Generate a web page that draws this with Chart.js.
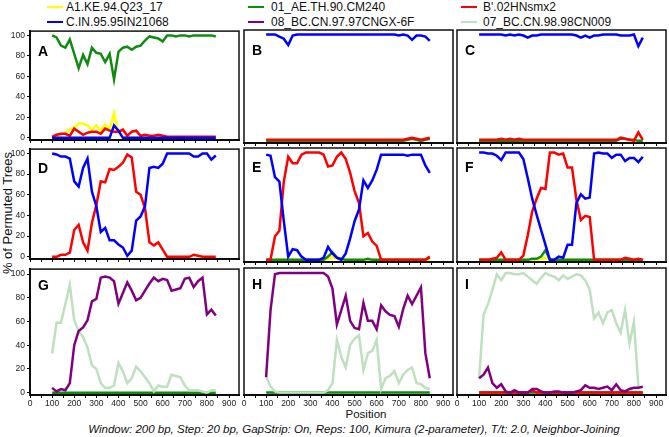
<!DOCTYPE html>
<html>
<head>
<meta charset="utf-8">
<title>Bootscan</title>
<script src="https://cdn.jsdelivr.net/npm/chart.js"></script>
<style>
  body { margin: 0; background: #fff; }
  #page { position: relative; width: 669px; height: 437px; overflow: hidden; background: #fff;
          font-family: "Liberation Sans", Arial, Helvetica, sans-serif; color: #111; }
  canvas { position: absolute; }
  .leg { position: absolute; font-size: 12px; line-height: 14px; white-space: nowrap; }
  .leg i { position: absolute; top: 6px; height: 0; width: 16px; border-top: 2.5px solid; }
  .txt { position: absolute; white-space: nowrap; }
</style>
</head>
<body>
<div id="page">
  <div class="txt" id="ytitle" style="left:7px; top:213px; font-size:13px; transform:translate(-50%,-50%) rotate(-90deg);">% of Permuted Trees</div>
  <div class="txt" style="left:366px; top:414px; font-size:11.5px; transform:translate(-50%,-50%);">Position</div>
  <div class="txt" style="left:354px; top:429px; font-size:11.5px; font-style:italic; transform:translate(-50%,-50%);">Window: 200 bp, Step: 20 bp, GapStrip: On, Reps: 100, Kimura (2-parameter), T/t: 2.0, Neighbor-Joining</div>
</div>
<script>
// positions of the window centres (x) shared by every panel
const positions = [100, 120, 140, 160, 180, 200, 220, 240, 260, 280, 300, 320, 340, 360, 380, 400, 420, 440, 460,
                   480, 500, 520, 540, 560, 580, 600, 620, 640, 660, 680, 700, 720, 740, 760, 780, 800, 820, 840];
const xTicks = [0, 50, 100, 150, 200, 250, 300, 350, 400, 450, 500, 550, 600, 650, 700, 750, 800, 850, 900];
const yTicks = [0, 10, 20, 30, 40, 50, 60, 70, 80, 90, 100];

const names = {
  yellow: 'A1.KE.94.Q23_17', green: '01_AE.TH.90.CM240', red: "B'.02HNsmx2",
  blue: 'C.IN.95.95IN21068', purple: '08_BC.CN.97.97CNGX-6F', pale: '07_BC.CN.98.98CN009'
};
const legendOrder = ['yellow', 'green', 'red', 'blue', 'purple', 'pale'];

// panel A
const aYellow = [0,1,3,5,8,10,14,14,12,8,12,7,13,8,24,5,0,0,0,0,0,0,0,0,0,0,0,0,0,0,0,0,0,0,0,0,0,0];
const aGreen  = [100,98,90,88,96,82,68,81,72,88,83,82,74,82,57,84,88,89,86,89,90,95,99,98,97,94,100,100,99,100,100,99,100,100,100,100,100,99];
const aRed    = [1,3,4,4,2,9,6,3,5,6,6,4,9,7,6,6,8,2,6,7,2,3,2,2,3,2,1,1,1,1,1,1,1,1,1,1,1,1];
const aBlue   = [0,0,0,0,0,0,0,0,0,0,0,0,0,0,12,7,0,0,0,0,0,0,0,0,0,0,0,0,0,0,0,0,0,0,0,0,0,0];
// panel B
const bGreen  = [0,0,0,0,0,0,0,0,0,0,0,0,0,0,0,0,0,0,0,0,0,0,0,0,0,0,0,0,0,0,0,0,1,2,1,0,1,2];
const bRed    = [1,1,1,1,1,1,1,1,1,1,1,1,1,1,1,1,1,1,1,1,1,1,1,1,1,1,1,1,1,1,1,1,2,3,2,1,2,3];
const bBlue   = [100,100,100,98,96,90,99,100,100,100,100,100,100,100,100,100,100,100,100,100,100,100,100,100,100,100,100,100,100,100,99,100,99,95,99,99,98,94];
// panel C
const cGreen  = [0,0,0,0,0,0,0,0,0,0,0,0,0,0,0,0,0,0,0,0,0,0,0,0,0,0,0,0,0,0,0,0,2,2,1,1,0,0];
const cRed    = [1,1,1,1,1,2,1,2,1,2,1,1,1,1,1,1,1,1,1,1,1,1,1,1,1,1,1,1,1,1,1,1,3,2,1,0,8,1];
const cBlue   = [100,100,100,100,100,100,99,100,99,100,99,97,99,99,100,100,100,100,100,100,100,100,99,97,99,97,99,99,100,100,100,100,99,99,99,100,89,97];
// panel D
const dRed    = [0,0,2,2,4,26,31,14,6,33,50,73,72,85,84,87,91,99,96,63,60,47,14,11,14,7,0,0,0,0,0,0,2,1,0,0,0,0];
const dBlue   = [100,99,97,97,95,73,68,86,95,63,49,24,28,16,16,12,9,1,6,35,39,49,86,87,86,90,100,100,100,100,100,100,97,97,100,100,94,98];
// panel E
const eYellow = [0,0,0,0,0,0,0,0,0,0,0,0,0,0,1,3,1,0,0,0,0,0,0,0,0,0,0,0,0,0,0,0,0,0,0,0,0,0];
const eGreen  = [0,0,0,0,0,0,0,0,0,0,0,0,0,0,3,7,2,1,0,0,0,0,0,1,0,0,0,0,0,0,0,0,0,0,0,0,0,2];
const eRed    = [0,0,22,27,73,96,90,90,98,100,100,100,100,98,87,88,96,100,94,81,64,53,22,25,17,13,0,0,0,0,0,0,0,0,0,0,0,3];
const eBlue   = [98,97,77,73,36,3,10,9,3,0,0,0,0,2,12,6,2,0,6,20,36,47,74,67,74,84,98,98,98,98,98,98,97,98,98,98,88,81];
// panel F
const fYellow = [0,0,0,0,0,0,0,0,0,0,0,0,0,0,1,2,0,0,0,0,0,0,0,0,0,0,0,0,0,0,0,0,0,0,0,0,0,0];
const fGreen  = [0,0,0,0,0,0,0,0,0,0,0,0,1,1,3,9,0,0,0,0,0,0,0,0,0,0,0,0,0,0,0,0,0,0,0,0,0,0];
const fRed    = [0,0,0,1,2,7,0,0,0,0,4,23,45,57,67,66,100,100,98,99,86,86,56,37,41,40,0,0,0,0,0,0,0,2,1,0,1,0];
const fBlue   = [100,100,99,99,97,93,100,100,100,100,94,76,57,42,28,14,0,0,3,2,14,14,53,61,57,58,99,100,99,99,95,98,98,92,95,95,91,96];
// panel G
const gGreen  = [0,0,0,0,0,0,0,0,0,0,0,0,0,0,0,0,0,0,0,0,0,0,0,0,0,0,0,0,0,0,0,0,0,0,0,0,0,0];
const gPurple = [4,1,3,2,8,40,52,55,61,77,79,97,98,97,94,75,84,93,86,78,80,86,92,97,94,96,95,86,87,88,96,97,89,94,97,66,70,65];
const gPale   = [33,59,59,75,91,61,52,47,38,23,20,8,4,4,6,25,18,8,12,22,18,13,8,1,6,5,5,15,14,13,6,2,2,2,1,0,2,2];
// panel H
const hGreen  = [0,0,0,0,0,0,0,0,0,0,0,0,0,0,0,0,0,0,0,0,0,0,0,0,0,0,0,0,0,0,0,0,0,0,0,0,0,0];
const hPurple = [13,69,99,100,100,100,100,100,100,100,100,100,100,100,97,87,57,69,81,60,54,53,75,60,60,53,73,68,65,64,55,70,81,74,81,88,33,12];
const hPale   = [13,5,1,0,0,0,0,0,0,0,0,0,0,0,2,8,44,30,21,40,45,48,19,33,35,44,3,12,14,18,8,15,19,21,8,7,4,3];
// panel I
const iGreen  = [0,0,0,0,0,0,0,0,0,0,0,0,0,0,0,0,0,0,0,0,0,0,0,0,0,0,0,0,0,0,0,0,0,0,0,0,0,0];
const iRed    = [0,0,0,0,0,0,0,0,0,0,0,0,2,0,0,0,0,0,0,0,0,0,0,0,0,0,0,0,0,0,0,0,0,0,0,0,0,0];
const iPurple = [12,15,21,8,4,7,1,0,2,0,0,0,3,3,1,0,0,1,1,0,0,0,1,2,6,4,4,3,4,5,2,7,2,1,3,4,4,5];
const iPale   = [12,65,74,86,99,94,100,100,99,99,100,97,94,91,96,100,98,97,94,98,95,97,99,98,94,86,62,67,58,67,69,58,50,69,41,59,5,4];

const colors = { yellow: '#ffff00', green: '#118a11', red: '#ff0000', blue: '#0000ff', purple: '#800080', pale: '#bfe0bf' };
// lower = drawn on top
const rank = { blue: 1, purple: 1, red: 2, pale: 2, green: 3, yellow: 4 };

const panels = [
  { letter: 'A', col: 0, row: 0, lines: [['yellow', aYellow], ['green', aGreen], ['red', aRed], ['blue', aBlue]] },
  { letter: 'B', col: 1, row: 0, lines: [['green', bGreen], ['red', bRed], ['blue', bBlue]] },
  { letter: 'C', col: 2, row: 0, lines: [['green', cGreen], ['red', cRed], ['blue', cBlue]] },
  { letter: 'D', col: 0, row: 1, lines: [['red', dRed], ['blue', dBlue]] },
  { letter: 'E', col: 1, row: 1, lines: [['yellow', eYellow], ['green', eGreen], ['red', eRed], ['blue', eBlue]] },
  { letter: 'F', col: 2, row: 1, lines: [['yellow', fYellow], ['green', fGreen], ['red', fRed], ['blue', fBlue]] },
  { letter: 'G', col: 0, row: 2, lines: [['green', gGreen], ['purple', gPurple], ['pale', gPale]] },
  { letter: 'H', col: 1, row: 2, lines: [['green', hGreen], ['purple', hPurple], ['pale', hPale]] },
  { letter: 'I', col: 2, row: 2, lines: [['green', iGreen], ['red', iRed], ['purple', iPurple], ['pale', iPale]] }
];

// layout of the grid (pixels)
const colLeft = [30, 244, 457];
const rowTop = [30, 148, 268];
const rowH = [113, 114, 127];
const letterDy = [21, 20.5, 17.5];
const plotW = 209, yAxisW = 30, padTop = 6, padRight = 3;

const page = document.getElementById('page');

// legend, two rows of three
const legLineX = [47, 248, 461];
const legTextX = [66, 271, 483];
const legY = [0, 15];
legendOrder.forEach((k, i) => {
  const c = i % 3, r = Math.floor(i / 3);
  const d = document.createElement('div');
  d.className = 'leg';
  d.style.left = legTextX[c] + 'px';
  d.style.top = legY[r] + 'px';
  d.textContent = names[k];
  const ln = document.createElement('i');
  ln.style.borderTopColor = colors[k];
  ln.style.left = (legLineX[c] - legTextX[c]) + 'px';
  d.appendChild(ln);
  page.appendChild(d);
});

const framePlugin = {
  id: 'frame',
  afterDraw(chart) {
    const a = chart.chartArea, ctx = chart.ctx, o = chart.options.plugins.frame;
    ctx.save();
    ctx.strokeStyle = '#111';
    ctx.lineWidth = 1.5;
    ctx.strokeRect(a.left, a.top, a.right - a.left, a.bottom - a.top);
    ctx.fillStyle = '#000';
    ctx.font = 'bold 14px "Liberation Sans", Arial, sans-serif';
    ctx.textBaseline = 'middle';
    ctx.fillText(o.letter, a.left + 8, a.top + o.dy);
    ctx.restore();
  }
};

panels.forEach(p => {
  const bottomRow = p.row === 2;
  const firstCol = p.col === 0;
  const xAxisH = bottomRow ? 18 : 4;
  const cv = document.createElement('canvas');
  const w = yAxisW + plotW + padRight;
  const h = padTop + rowH[p.row] + xAxisH;
  cv.width = w; cv.height = h;
  cv.style.width = w + 'px'; cv.style.height = h + 'px';
  cv.style.left = (colLeft[p.col] - yAxisW) + 'px';
  cv.style.top = (rowTop[p.row] - padTop) + 'px';
  page.appendChild(cv);

  new Chart(cv, {
    type: 'line',
    data: {
      datasets: p.lines.map(([key, vals]) => ({
        label: names[key],
        data: positions.map((x, i) => ({ x: x, y: vals[i] })),
        borderColor: colors[key],
        backgroundColor: colors[key],
        borderWidth: 2.5,
        pointRadius: 0,
        tension: 0,
        fill: false,
        order: rank[key]
      }))
    },
    options: {
      responsive: false,
      animation: false,
      devicePixelRatio: 1,
      layout: { padding: { top: padTop, right: padRight, left: 0, bottom: 0 } },
      plugins: {
        legend: { display: false },
        tooltip: { enabled: false },
        frame: { letter: p.letter, dy: letterDy[p.row] }
      },
      scales: {
        x: {
          type: 'linear', min: 0, max: 945,
          afterBuildTicks: s => { s.ticks = xTicks.map(v => ({ value: v })); },
          afterFit: s => { s.height = xAxisH; },
          ticks: {
            display: bottomRow, autoSkip: false, maxRotation: 0, padding: 1,
            color: '#222', font: { size: 8.5, family: '"Liberation Sans", Arial, sans-serif' },
            callback: v => (v % 100 === 0 ? String(v) : '')
          },
          grid: { drawOnChartArea: false, drawTicks: true, tickLength: 3, color: '#000', lineWidth: 1 },
          border: { display: true, color: '#000', width: 2 }
        },
        y: {
          type: 'linear', min: -2, max: 104.2,
          afterBuildTicks: s => { s.ticks = yTicks.map(v => ({ value: v })); },
          afterFit: s => { s.width = yAxisW; },
          ticks: {
            display: firstCol, padding: 2, color: '#222',
            font: { size: 8.5, family: '"Liberation Sans", Arial, sans-serif' }
          },
          grid: { drawOnChartArea: false, drawTicks: firstCol, tickLength: 3, color: '#000', lineWidth: 1 },
          border: { display: firstCol, color: '#000', width: 2 }
        }
      }
    },
    plugins: [framePlugin]
  });
});
</script>
</body>
</html>
